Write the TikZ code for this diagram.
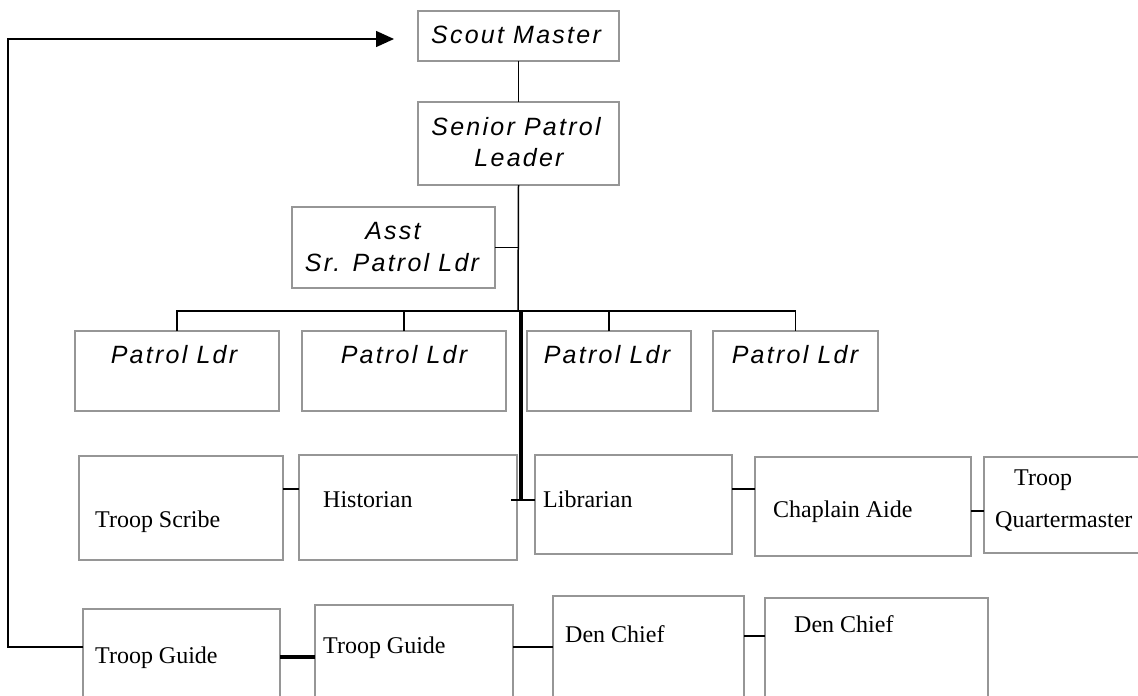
\documentclass[tikz,border=0pt]{standalone}
\usepackage{fontspec}
\setmainfont{Liberation Serif}
\newfontfamily\labsans{Liberation Sans}[LetterSpace=9]
\usetikzlibrary{arrows.meta}
\definecolor{boxgray}{RGB}{150,150,150}
\tikzset{
  box/.style={draw=boxgray, line width=1.4pt, rectangle, inner sep=0pt, outer sep=0pt},
  conn/.style={draw=black, line width=1.5pt},
  thickconn/.style={draw=black, line width=3.6pt},
  sanslab/.style={inner sep=0pt, anchor=base, font=\labsans\itshape\fontsize{25}{30}\selectfont},
  seriflab/.style={inner sep=0pt, anchor=base west, font=\fontsize{24}{30}\selectfont},
}
\begin{document}
\begin{tikzpicture}[x=1pt,y=-1pt]
\useasboundingbox (0,0) rectangle (1138,696);
\clip (0,0) rectangle (1138,696);
% boxes
\node[box, minimum width=201, minimum height=50] (sm) at (518.5,36) {};
\node[box, minimum width=201, minimum height=83] (spl) at (518.5,143.5) {};
\node[box, minimum width=203, minimum height=81] (asst) at (393.5,247.5) {};
\node[box, minimum width=204, minimum height=80] (pl1) at (177,371) {};
\node[box, minimum width=204, minimum height=80] (pl2) at (404,371) {};
\node[box, minimum width=164, minimum height=80] (pl3) at (609,371) {};
\node[box, minimum width=165, minimum height=80] (pl4) at (795.5,371) {};
\node[box, minimum width=204, minimum height=104] (scribe) at (181,508) {};
\node[box, minimum width=218, minimum height=105] (hist) at (408,507.5) {};
\node[box, minimum width=197, minimum height=99] (lib) at (633.5,504.5) {};
\node[box, minimum width=216, minimum height=99] (chap) at (863,506.5) {};
\node[box, minimum width=156, minimum height=96] (qm) at (1062,505) {};
\node[box, minimum width=197, minimum height=91] (tg1) at (181.5,654.5) {};
\node[box, minimum width=198, minimum height=95] (tg2) at (414,652.5) {};
\node[box, minimum width=191, minimum height=104] (dc1) at (648.5,648) {};
\node[box, minimum width=223, minimum height=102] (dc2) at (876.5,649) {};
% texts
\node[sanslab] (tsm) at (516,43) {Scout Master};
\node[sanslab] (tspl1) at (516,135) {Senior Patrol};
\node[sanslab] (tspl2) at (519,166) {Leader};
\node[sanslab] (tas1) at (393,239) {Asst};
\node[sanslab] (tas2) at (392,271) {Sr. Patrol Ldr};
\node[sanslab] (tpl1) at (174,363) {Patrol Ldr};
\node[sanslab] (tpl2) at (404,363) {Patrol Ldr};
\node[sanslab] (tpl3) at (607,363) {Patrol Ldr};
\node[sanslab] (tpl4) at (795,363) {Patrol Ldr};
\node[seriflab] (tscribe) at (95,527) {Troop Scribe};
\node[seriflab] (thist) at (323,507) {Historian};
\node[seriflab] (tlib) at (543,507) {Librarian};
\node[seriflab] (tchap) at (773,517) {Chaplain Aide};
\node[seriflab] (tqm1) at (1014,485) {Troop};
\node[seriflab] (tqm2) at (995,527) {Quartermaster};
\node[seriflab] (ttg1) at (95,663) {Troop Guide};
\node[seriflab] (ttg2) at (323,653) {Troop Guide};
\node[seriflab] (tdc1) at (565,642) {Den Chief};
\node[seriflab] (tdc2) at (794,632) {Den Chief};
% coordinates
\coordinate (bar) at (518,311);
\coordinate (thtop) at (521,311);
\coordinate (thbot) at (521,501);
\coordinate (tickl) at (511,500);
\coordinate (loopbl) at (8,647);
\coordinate (looptl) at (8,39);
\coordinate (tip) at (394,39);
% connectors
\draw[conn] (sm.south) -- (spl.north);
\draw[conn] (spl.south) -- (bar);
\draw[conn] (asst.east) -- (asst.east -| bar);
\draw[conn] (pl1.north) |- (bar) -| (pl4.north);
\draw[conn] (pl2.north) -- (pl2.north |- bar);
\draw[conn] (pl3.north) -- (pl3.north |- bar);
\draw[thickconn] (thtop) -- (thbot);
\draw[conn] (tickl) -- (tickl -| lib.west);
\draw[conn] (scribe.east |- 0,489) -- (hist.west |- 0,489);
\draw[conn] (lib.east |- 0,489) -- (chap.west |- 0,489);
\draw[conn] (chap.east |- 0,511) -- (qm.west |- 0,511);
\draw[conn, -{Triangle[length=18pt,width=16pt]}] (tg1.west |- loopbl) -- (loopbl) -- (looptl) -- (tip);
\draw[line width=4pt] (tg1.east |- 0,657) -- (tg2.west |- 0,657);
\draw[conn] (tg2.east |- 0,647) -- (dc1.west |- 0,647);
\draw[conn] (dc1.east |- 0,636) -- (dc2.west |- 0,636);
\end{tikzpicture}
\end{document}
